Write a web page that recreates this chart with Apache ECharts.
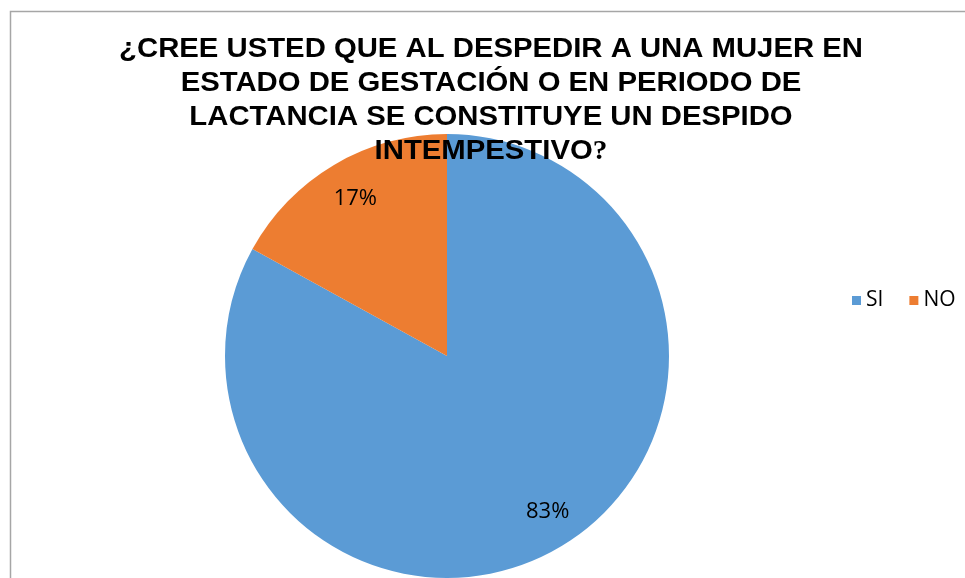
<!DOCTYPE html>
<html><head><meta charset="utf-8">
<script src="https://cdn.jsdelivr.net/npm/echarts@6/dist/echarts.min.js"></script>
<style>html,body{margin:0;padding:0;background:#fff}#c{width:965px;height:578px}</style>
</head><body><div id="c"></div>
<script>
const categories = ['SI', 'NO'];
const values = [83, 17];
const colors = ['#5B9BD5', '#ED7D31'];
const titleLines = [
  '¿CREE USTED QUE AL DESPEDIR A UNA MUJER EN',
  'ESTADO DE GESTACIÓN O EN PERIODO DE',
  'LACTANCIA SE CONSTITUYE UN DESPIDO',
  'INTEMPESTIVO'
];

const data = categories.map((c, i) => ({ name: c, value: values[i] }));
const titleGraphics = titleLines.map((t, i) => ({
  type: 'text', z: 100,
  x: 491, y: 50 + 34 * i, scaleX: 1.085,
  style: {
    text: i === titleLines.length - 1 ? '{a|' + t + '}{q|?}' : t,
    font: 'bold 27px "Liberation Sans", Arial, sans-serif',
    fill: '#000', align: 'center', verticalAlign: 'middle',
    rich: {
      a: { font: 'bold 27px "Liberation Sans", Arial, sans-serif', fill: '#000' },
      q: { font: 'bold 27px "Liberation Serif", "Times New Roman", serif', fill: '#000' }
    }
  }
}));

const chart = echarts.init(document.getElementById('c'));
chart.setOption({
  animation: false,
  color: colors,
  graphic: [{
    type: 'rect', z: -1,
    shape: { x: 10.5, y: 11.5, width: 1000, height: 600 },
    style: { fill: '#fff', stroke: '#a6a6a6', lineWidth: 1.5 }
  }].concat(titleGraphics),
  legend: {
    data: categories,
    left: 852, top: 290, padding: 0,
    itemWidth: 9, itemHeight: 9, itemGap: 26,
    icon: 'rect',
    textStyle: { fontFamily: 'Open Sans', fontSize: 21, color: '#000', padding: [0, 0, 0, 0] }
  },
  series: [{
    type: 'pie',
    center: [447, 356], radius: [0, 222],
    startAngle: 90, clockwise: true,
    label: { show: false }, labelLine: { show: false },
    emphasis: { disabled: true },
    itemStyle: { borderWidth: 0 },
    data: data
  }, {
    type: 'pie', silent: true,
    center: [447, 356], radius: [144, 222],
    startAngle: 90, clockwise: true,
    itemStyle: { color: 'rgba(0,0,0,0)' },
    label: { show: true, position: 'inside', formatter: '{d}%', fontFamily: 'Open Sans', fontSize: 22, color: '#000' },
    labelLine: { show: false },
    labelLayout: function (p) {
      return p.dataIndex === 0 ? { dx: 6, dy: -4 } : { dx: 3, dy: 3 };
    },
    emphasis: { disabled: true },
    data: data
  }]
});
</script></body></html>
